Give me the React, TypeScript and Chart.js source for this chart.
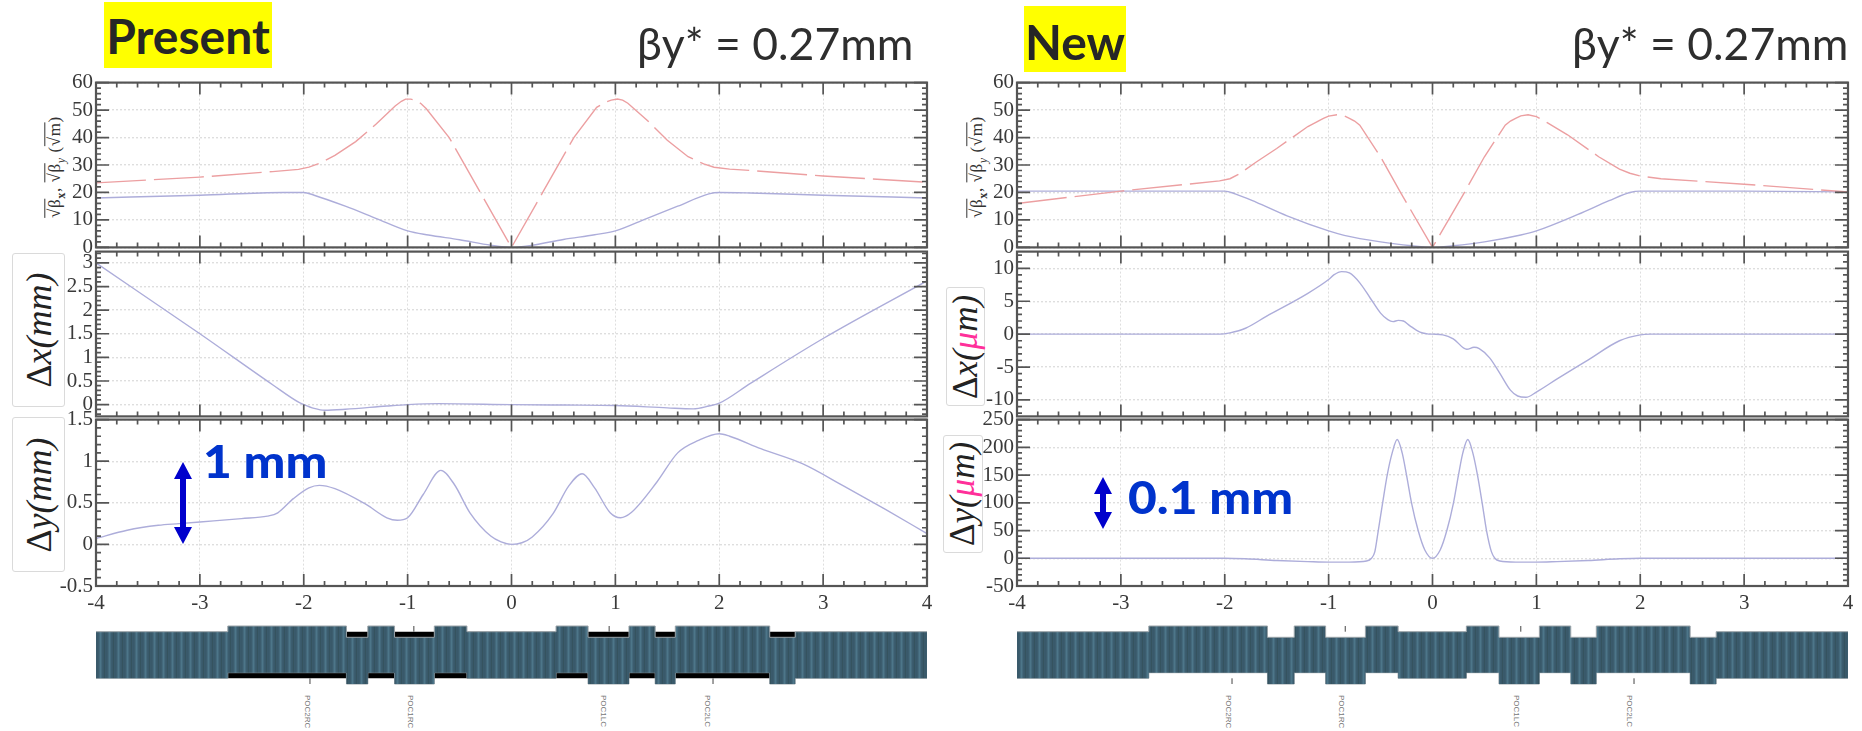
import React, { useEffect, useRef } from "react";
import { Chart, registerables } from "chart.js";

Chart.register(...registerables);

type Pt = [number, number];

// ---------- Data ----------
const presentBetaX: Pt[] = [[-4, 23.5], [-3, 25.6], [-2.3, 27.6], [-2.05, 28.4], [-1.95, 29.2], [-1.85, 30.6], [-1.7, 33.5], [-1.5, 38.5], [-1.3, 45], [-1.12, 51.5], [-1.06, 53.2], [-1.02, 54], [-0.97, 54], [-0.92, 53.5], [-0.87, 52.3], [-0.82, 50.5], [-0.6, 40], [-0.3, 20], [0, 0], [0.3, 20], [0.6, 40], [0.82, 51], [0.9, 52.8], [0.96, 53.6], [1.02, 54], [1.07, 53.6], [1.12, 52.5], [1.3, 46.5], [1.5, 39], [1.7, 33], [1.85, 30.4], [1.95, 29.2], [2.1, 28.5], [2.3, 28], [3, 26], [4, 23.7]];
const presentBetaY: Pt[] = [[-4, 18], [-3, 19], [-2.2, 20], [-2, 20], [-1.9, 19], [-1.6, 15], [-1.3, 10.5], [-1, 6], [-0.8, 4.5], [-0.5, 2.8], [-0.2, 0.8], [0, 0], [0.2, 0.8], [0.5, 2.9], [0.8, 4.6], [1, 6], [1.3, 10.5], [1.6, 15], [1.9, 19.5], [2, 20], [2.3, 19.8], [3, 19], [4, 18]];
const presentDx: Pt[] = [[-4, 3], [-3, 1.5], [-2.3, 0.42], [-2.05, 0.05], [-2, 0], [-1.9, -0.08], [-1.8, -0.12], [-1.6, -0.1], [-1.2, -0.03], [-1, 0], [-0.7, 0.02], [0, 0], [0.5, -0.01], [1, -0.02], [1.5, -0.07], [1.75, -0.09], [1.9, -0.03], [2, 0.03], [2.3, 0.45], [3, 1.4], [4, 2.62]];
const presentDy: Pt[] = [[-4, 0.07], [-3.7, 0.17], [-3.4, 0.23], [-3.2, 0.25], [-3, 0.27], [-2.6, 0.31], [-2.35, 0.34], [-2.25, 0.38], [-2.1, 0.55], [-1.95, 0.68], [-1.85, 0.71], [-1.7, 0.67], [-1.4, 0.48], [-1.2, 0.32], [-1.1, 0.29], [-1, 0.32], [-0.85, 0.6], [-0.68, 0.89], [-0.55, 0.72], [-0.4, 0.38], [-0.2, 0.1], [-0.1, 0.03], [0, 0], [0.1, 0.02], [0.2, 0.09], [0.4, 0.37], [0.55, 0.7], [0.68, 0.85], [0.8, 0.68], [0.95, 0.38], [1.05, 0.32], [1.15, 0.38], [1.4, 0.75], [1.6, 1.1], [1.8, 1.25], [2, 1.33], [2.1, 1.3], [2.4, 1.15], [2.8, 0.97], [3.2, 0.7], [3.6, 0.42], [4, 0.13]];

const newBetaX: Pt[] = [[-4, 16], [-3, 20.5], [-2.05, 24.2], [-1.95, 25], [-1.85, 27], [-1.7, 31], [-1.5, 36], [-1.2, 44], [-1.05, 47], [-1, 47.8], [-0.92, 48.3], [-0.85, 47.9], [-0.8, 47], [-0.75, 46], [-0.7, 44.5], [-0.5, 33], [-0.3, 19.5], [0, 0], [0.3, 19.5], [0.5, 33], [0.7, 44.5], [0.75, 46], [0.8, 47], [0.85, 47.9], [0.92, 48.3], [1, 47.6], [1.1, 45.5], [1.3, 41], [1.6, 33], [1.8, 28.5], [1.9, 27], [2, 26], [2.2, 25], [3, 23], [4, 20.2]];
const newBetaY: Pt[] = [[-4, 20.5], [-3, 20.5], [-2, 20.5], [-1.9, 19.5], [-1.7, 16.5], [-1.4, 11.5], [-1, 6], [-0.85, 4.4], [-0.5, 2], [-0.2, 0.6], [0, 0], [0.2, 0.6], [0.5, 2], [0.85, 4.5], [1, 6], [1.4, 12], [1.7, 17], [1.9, 20], [2, 20.5], [3, 20.5], [4, 20.2]];
const newDx: Pt[] = [[-4, 0], [-2.05, 0], [-1.95, 0.2], [-1.8, 0.9], [-1.6, 2.7], [-1.2, 6.2], [-1, 8.3], [-0.95, 9], [-0.875, 9.5], [-0.8, 9.3], [-0.7, 7.8], [-0.6, 5.5], [-0.5, 3.2], [-0.43, 2.2], [-0.38, 1.9], [-0.33, 2.1], [-0.28, 2], [-0.22, 1.3], [-0.12, 0.3], [-0.05, 0.05], [0, 0], [0.1, -0.1], [0.2, -0.7], [0.33, -2.3], [0.4, -2], [0.45, -2.2], [0.55, -3.6], [0.65, -6], [0.75, -8.5], [0.82, -9.4], [0.9, -9.6], [1, -8.8], [1.2, -6.8], [1.5, -3.9], [1.8, -1], [2, -0.1], [2.1, 0], [4, 0]];
const newDy: Pt[] = [[-4, 0], [-2, 0], [-1.8, -1], [-1.5, -4], [-1.2, -6], [-1, -7], [-0.8, -7], [-0.635, -5], [-0.587, 0], [-0.555, 12], [-0.522, 50], [-0.48, 100], [-0.436, 150], [-0.388, 190], [-0.34, 214], [-0.292, 190], [-0.25, 150], [-0.202, 100], [-0.138, 50], [-0.074, 15], [0, 0], [0.074, 15], [0.138, 50], [0.202, 100], [0.25, 150], [0.292, 190], [0.34, 214], [0.388, 190], [0.433, 150], [0.478, 100], [0.52, 50], [0.567, 12], [0.6, 0], [0.647, -5], [0.8, -7], [1, -7], [1.2, -6], [1.5, -4], [1.8, -1], [2, 0], [4, 0]];

const betaTicks = [0, 10, 20, 30, 40, 50, 60];
const presentDxTicks = [0, 0.5, 1, 1.5, 2, 2.5, 3];
const presentDyTicks = [-0.5, 0, 0.5, 1, 1.5];
const newDxTicks = [-10, -5, 0, 5, 10];
const newDyTicks = [-50, 0, 50, 100, 150, 200, 250];

const latticeTop = [23.3, 29, 17.7, 29, 17.7, 29, 23.3, 29, 17.7, 29, 17.7, 29, 17.7, 23.3, 23.3];
const latticeBottom = [-23.3, -17.7, -29, -17.7, -29, -17.7, -23.3, -17.7, -29, -17.7, -29, -17.7, -29, -23.3, -23.3];
const presentEdges = [-4, -2.731, -1.589, -1.383, -1.126, -0.743, -0.429, 0.429, 0.737, 1.131, 1.383, 1.577, 2.486, 2.731, 4];
const newEdges = [-4, -2.731, -1.589, -1.331, -1.029, -0.646, -0.331, 0.326, 0.64, 1.029, 1.331, 1.577, 2.48, 2.731, 4];
const presentBlack: Pt[] = [[-2.731, 23.3], [2.731, 23.3]];
const presentBlackLow: Pt[] = [[-2.731, -23.3], [2.731, -23.3]];
const pocLabels = ["POC2RC", "POC1RC", "POC1LC", "POC2LC"];
const presentPocMarks = [-1.94, -0.94, 0.94, 1.94];
const newPocMarks = [-1.93, -0.84, 0.85, 1.94];
const presentPocText = [307, 410, 603, 707];
const newPocText = [1228, 1341, 1516, 1629];

// ---------- Styling ----------
const RED = "#ec9fa1";
const BLUE = "#adadda";
const AXIS = "#555555";
const GRID = "#dedede";
const SERIF = "'Liberation Serif', serif";
const LEFT_X: [number, number] = [96, 927];
const RIGHT_X: [number, number] = [1017, 1848.5];
const ROWS: [number, number][] = [[81, 249.5], [249.5, 418], [418, 586]];
const AXIS_W = 50;
const PAD = 14;

type PanelCfg = {
  xr: [number, number];
  row: number;
  series: { data: Pt[]; color: string; dash?: number[]; straight?: boolean }[];
  yTicks: number[];
  yMin: number;
  yMax: number;
  yMinor: number;
};

const panels: PanelCfg[] = [
  { xr: LEFT_X, row: 0, series: [{ data: presentBetaX, color: RED, dash: [50, 8], straight: true }, { data: presentBetaY, color: BLUE }], yTicks: betaTicks, yMin: 0, yMax: 60, yMinor: 2 },
  { xr: LEFT_X, row: 1, series: [{ data: presentDx, color: BLUE }], yTicks: presentDxTicks, yMin: -0.25, yMax: 3.24, yMinor: 0.1 },
  { xr: LEFT_X, row: 2, series: [{ data: presentDy, color: BLUE }], yTicks: presentDyTicks, yMin: -0.5, yMax: 1.5, yMinor: 0.1 },
  { xr: RIGHT_X, row: 0, series: [{ data: newBetaX, color: RED, dash: [50, 8], straight: true }, { data: newBetaY, color: BLUE }], yTicks: betaTicks, yMin: 0, yMax: 60, yMinor: 2 },
  { xr: RIGHT_X, row: 1, series: [{ data: newDx, color: BLUE }], yTicks: newDxTicks, yMin: -12.5, yMax: 12.55, yMinor: 1 },
  { xr: RIGHT_X, row: 2, series: [{ data: newDy, color: BLUE }], yTicks: newDyTicks, yMin: -50, yMax: 250, yMinor: 10 },
];

const toXY = (pts: Pt[]) => pts.map(([x, y]) => ({ x, y }));

function frameTicks(yMinor: number, yMajor: number) {
  return {
    id: "frameTicks",
    afterDatasetsDraw(chart: any) {
      const { ctx, chartArea: a, scales } = chart;
      const X = scales.x;
      const Y = scales.y;
      ctx.save();
      ctx.strokeStyle = AXIS;
      ctx.lineWidth = 1.7;
      ctx.beginPath();
      for (let i = -20; i <= 20; i++) {
        const px = X.getPixelForValue(i / 5);
        const len = i % 5 === 0 ? 12 : 5;
        ctx.moveTo(px, a.top);
        ctx.lineTo(px, a.top + len);
        ctx.moveTo(px, a.bottom);
        ctx.lineTo(px, a.bottom - len);
      }
      const n = Math.round((Y.max - Y.min) / yMinor) + 2;
      const start = Math.ceil(Y.min / yMinor);
      for (let i = start; i < start + n; i++) {
        const v = i * yMinor;
        if (v > Y.max) break;
        const px = Y.getPixelForValue(v);
        const ratio = v / yMajor;
        const major = Math.abs(ratio - Math.round(ratio)) < 1e-6;
        const len = major ? 13 : 5;
        ctx.moveTo(a.left, px);
        ctx.lineTo(a.left + len, px);
        ctx.moveTo(a.right, px);
        ctx.lineTo(a.right - len, px);
      }
      ctx.stroke();
      ctx.lineWidth = 2.2;
      ctx.strokeRect(a.left, a.top, a.right - a.left, a.bottom - a.top);
      ctx.restore();
    },
  };
}

function makeStripe(ctx: CanvasRenderingContext2D) {
  const c = document.createElement("canvas");
  c.width = 9;
  c.height = 1;
  const g = c.getContext("2d")!;
  const cols = ["#3a5a6b", "#39596a", "#3c5d6e", "#44697c", "#4d7689", "#44697c", "#3c5d6e", "#39596a", "#35535f"];
  cols.forEach((col, i) => {
    g.fillStyle = col;
    g.fillRect(i, 0, 1, 1);
  });
  return ctx.createPattern(c, "repeat")!;
}

function latticeMarks(marks: number[]) {
  return {
    id: "latticeMarks",
    afterDatasetsDraw(chart: any) {
      const { ctx, scales } = chart;
      ctx.save();
      ctx.strokeStyle = "#444";
      ctx.lineWidth = 1;
      ctx.beginPath();
      marks.forEach((m) => {
        const px = scales.x.getPixelForValue(m);
        const inner = Math.abs(m) > 1.5 ? -23.3 : 23.3;
        const outer = Math.abs(m) > 1.5 ? -29 : 29;
        ctx.moveTo(px, scales.y.getPixelForValue(inner));
        ctx.lineTo(px, scales.y.getPixelForValue(outer));
      });
      ctx.stroke();
      ctx.restore();
    },
  };
}

function PanelChart({ cfg }: { cfg: PanelCfg }) {
  const ref = useRef<HTMLCanvasElement>(null);
  const bottom = cfg.row === 2;
  const [y0, y1] = ROWS[cfg.row];
  const [x0, x1] = cfg.xr;
  const xH = bottom ? 34 : PAD;
  useEffect(() => {
    const chart = new Chart(ref.current!, {
      type: "scatter",
      data: {
        datasets: cfg.series.map((s) => ({
          data: toXY(s.data),
          showLine: true,
          borderColor: s.color,
          borderWidth: 1.4,
          borderDash: s.dash,
          pointRadius: 0,
          cubicInterpolationMode: s.straight ? "default" : "monotone",
          tension: 0,
        })),
      },
      options: {
        responsive: false,
        animation: false,
        layout: { padding: { top: PAD, right: PAD, bottom: bottom ? 0 : PAD, left: 0 } },
        plugins: { legend: { display: false }, tooltip: { enabled: false } },
        scales: {
          x: {
            type: "linear",
            min: -4,
            max: 4,
            afterBuildTicks: (axis: any) => {
              axis.ticks = [-4, -3, -2, -1, 0, 1, 2, 3, 4].map((value) => ({ value }));
            },
            afterFit: (axis: any) => {
              axis.height = bottom ? xH : 0;
            },
            grid: { color: GRID, drawTicks: false, lineWidth: 1 },
            border: { display: false, dash: [2, 2] },
            ticks: {
              display: bottom,
              padding: 5,
              color: "#3a3a3a",
              font: { family: SERIF, size: 21 },
              maxRotation: 0,
              autoSkip: false,
              callback: (v: any) => String(v),
            },
          },
          y: {
            type: "linear",
            min: cfg.yMin,
            max: cfg.yMax,
            afterBuildTicks: (axis: any) => {
              axis.ticks = cfg.yTicks.map((value) => ({ value }));
            },
            afterFit: (axis: any) => {
              axis.width = AXIS_W;
            },
            grid: { color: GRID, drawTicks: false, lineWidth: 1.4 },
            border: { display: false, dash: [2, 2] },
            ticks: {
              padding: 3,
              color: "#3a3a3a",
              font: { family: SERIF, size: 21 },
              autoSkip: false,
              callback: (v: any) => String(v),
            },
          },
        },
      },
      plugins: [frameTicks(cfg.yMinor, cfg.yTicks[1] - cfg.yTicks[0])],
    } as any);
    return () => chart.destroy();
  }, []);
  return (
    <canvas
      ref={ref}
      width={x1 - x0 + AXIS_W + PAD}
      height={y1 - y0 + PAD + xH}
      style={{ position: "absolute", left: x0 - AXIS_W, top: y0 - PAD, filter: "blur(0.5px)" }}
    />
  );
}

function LatticeChart({ xr, edges, black, marks }: { xr: [number, number]; edges: number[]; black: boolean; marks: number[] }) {
  const ref = useRef<HTMLCanvasElement>(null);
  useEffect(() => {
    const canvas = ref.current!;
    const stripe = makeStripe(canvas.getContext("2d")!);
    const datasets: any[] = [
      { data: edges.map((x, i) => ({ x, y: latticeTop[i] })), stepped: "before", fill: "+1", backgroundColor: stripe, borderColor: "#9aa3a8", borderWidth: 1, pointRadius: 0 },
      { data: edges.map((x, i) => ({ x, y: latticeBottom[i] })), stepped: "before", fill: false, borderColor: "#9aa3a8", borderWidth: 1, pointRadius: 0 },
    ];
    if (black) {
      datasets.push(
        { data: toXY(presentBlack), fill: "+1", backgroundColor: "#000", borderWidth: 0, pointRadius: 0 },
        { data: toXY(presentBlackLow), fill: false, borderWidth: 0, pointRadius: 0 }
      );
    }
    const chart = new Chart(canvas, {
      type: "scatter",
      data: { datasets },
      options: {
        responsive: false,
        animation: false,
        showLine: true,
        layout: { padding: 0 },
        plugins: { legend: { display: false }, tooltip: { enabled: false } },
        scales: {
          x: { type: "linear", min: -4, max: 4, display: false },
          y: { type: "linear", min: -35, max: 35, display: false },
        },
      },
      plugins: [latticeMarks(marks)],
    } as any);
    return () => chart.destroy();
  }, []);
  return <canvas ref={ref} width={xr[1] - xr[0]} height={70} style={{ position: "absolute", left: xr[0], top: 620, filter: "blur(0.5px)" }} />;
}

const abs = (s: React.CSSProperties): React.CSSProperties => ({ position: "absolute", whiteSpace: "nowrap", ...s });

function Badge({ text, x0, x1, y0, y1, textY }: { text: string; x0: number; x1: number; y0: number; y1: number; textY: number }) {
  return (
    <div style={abs({ left: x0, top: y0, width: x1 - x0, height: y1 - y0, background: "#ffff00" })}>
      <div style={abs({ left: 0, right: 0, top: textY - y0, textAlign: "center", fontFamily: "Lato", fontWeight: 700, fontSize: 48, lineHeight: "48px", color: "#262626" })}>{text}</div>
    </div>
  );
}

function BetaTitle({ x }: { x: number }) {
  return <div style={abs({ left: x, top: 19, fontFamily: "Lato", fontSize: 44.5, lineHeight: "48px", color: "#2e2e2e" })}>βy* = 0.27mm</div>;
}

function LabelBox({ x0, x1, y0, y1, children, size }: { x0: number; x1: number; y0: number; y1: number; children: React.ReactNode; size: number }) {
  return (
    <div style={abs({ left: x0, top: y0, width: x1 - x0, height: y1 - y0, border: "1px solid #dadada", borderRadius: 3, boxSizing: "border-box", background: "#fff" })}>
      <div style={abs({ left: "50%", top: "50%", transform: "translate(-50%,-50%) rotate(-90deg)", fontFamily: SERIF, fontStyle: "italic", fontSize: size, color: "#222" })}>{children}</div>
    </div>
  );
}

const Mu = () => <span style={{ color: "#ff2f9a" }}>μ</span>;
const Delta = () => <span style={{ fontStyle: "normal" }}>Δ</span>;

function BetaAxisLabel({ cx }: { cx: number }) {
  const over: React.CSSProperties = { textDecoration: "overline" };
  return (
    <div style={abs({ left: cx, top: 167, transform: "translate(-50%,-50%) rotate(-90deg)", fontFamily: SERIF, fontSize: 17, letterSpacing: 0.6, color: "#333" })}>
      <span style={over}>√β</span><sub style={{ fontSize: 12, fontWeight: 700 }}>x</sub>, <span style={over}>√β</span><sub style={{ fontSize: 12, fontStyle: "italic" }}>y</sub> (<span style={over}>√m</span>)
    </div>
  );
}

function Arrow({ cx, y0, y1 }: { cx: number; y0: number; y1: number }) {
  const c = 10;
  const h = y1 - y0;
  return (
    <svg width={20} height={h} style={{ position: "absolute", left: cx - c, top: y0 }}>
      <path d={`M${c} 0 L${c + 9} 17 L${c + 3} 17 L${c + 3} ${h - 17} L${c + 9} ${h - 17} L${c} ${h} L${c - 9} ${h - 17} L${c - 3} ${h - 17} L${c - 3} 17 L${c - 9} 17 Z`} fill="#0000cc" />
    </svg>
  );
}

function BigBlue({ x, top, text }: { x: number; top: number; text: string }) {
  return <div style={abs({ left: x, top, fontFamily: "Lato", fontWeight: 900, fontSize: 46, lineHeight: "46px", color: "#0033cc", transform: "scaleX(1.08)", transformOrigin: "left center" })}>{text}</div>;
}

function PocTexts({ xs }: { xs: number[] }) {
  return (
    <>
      {xs.map((x, i) => (
        <div key={i} style={abs({ left: x - 5, top: 695, writingMode: "vertical-rl", fontFamily: "'Liberation Sans'", fontSize: 8, color: "#777", lineHeight: "10px" })}>{pocLabels[i]}</div>
      ))}
    </>
  );
}

export default function App() {
  return (
    <div style={{ position: "fixed", left: 0, top: 0, width: 1862, height: 731, overflow: "hidden", background: "#fff" }}>
      <LabelBox x0={12} x1={65} y0={253} y1={407} size={36}><Delta />x(mm)</LabelBox>
      <LabelBox x0={12} x1={65} y0={417} y1={572} size={36}><Delta />y(mm)</LabelBox>
      <LabelBox x0={946} x1={985} y0={287} y1={406} size={35}><Delta />x(<Mu />m)</LabelBox>
      <LabelBox x0={943} x1={983} y0={435} y1={553} size={35}><Delta />y(<Mu />m)</LabelBox>
      <BetaAxisLabel cx={57} />
      <BetaAxisLabel cx={979} />
      {panels.map((p, i) => <PanelChart key={i} cfg={p} />)}
      <LatticeChart xr={LEFT_X} edges={presentEdges} black={true} marks={presentPocMarks} />
      <LatticeChart xr={RIGHT_X} edges={newEdges} black={false} marks={newPocMarks} />
      <PocTexts xs={presentPocText} />
      <PocTexts xs={newPocText} />
      <Badge text="Present" x0={104} x1={272} y0={2} y1={68} textY={12} />
      <Badge text="New" x0={1024} x1={1126} y0={6} y1={72} textY={18} />
      <BetaTitle x={637} />
      <BetaTitle x={1572} />
      <Arrow cx={183} y0={462} y1={544} />
      <Arrow cx={1103} y0={477} y1={529} />
      <BigBlue x={203} top={438} text="1 mm" />
      <BigBlue x={1128} top={474} text="0.1 mm" />
    </div>
  );
}
